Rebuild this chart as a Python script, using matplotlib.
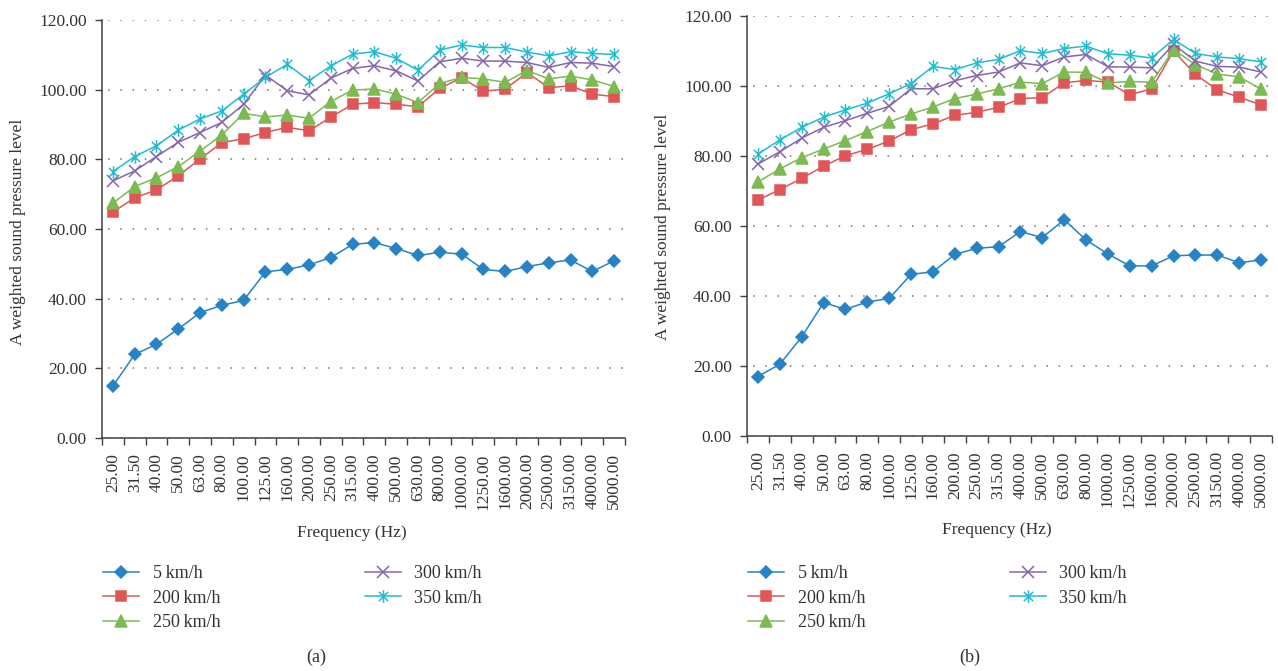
import matplotlib
matplotlib.use('Agg')
import matplotlib.pyplot as plt
from matplotlib.path import Path

# 1/3 octave centre frequencies
freqs = [25, 31.5, 40, 50, 63, 80, 100, 125, 160, 200, 250, 315, 400, 500,
         630, 800, 1000, 1250, 1600, 2000, 2500, 3150, 4000, 5000]
freq_labels = ['%.2f' % f for f in freqs]

speeds = ['5\u2009km/h', '200\u2009km/h', '250\u2009km/h', '300\u2009km/h', '350\u2009km/h']

# (a)
a_5 = [14.9, 24.0, 26.9, 31.3, 36.0, 38.1, 39.5, 47.7, 48.4, 49.7, 51.8, 55.6,
       56.1, 54.4, 52.4, 53.3, 52.8, 48.4, 47.8, 49.2, 50.3, 51.1, 47.8, 50.9]
a_200 = [64.8, 69.0, 71.2, 75.3, 80.1, 84.8, 85.9, 87.7, 89.2, 88.2, 92.1, 95.8,
         96.3, 95.8, 95.1, 100.4, 103.4, 99.6, 100.1, 104.9, 100.6, 101.1, 98.7, 98.0]
a_250 = [67.4, 72.2, 74.7, 77.9, 82.4, 87.0, 93.2, 92.2, 92.7, 91.8, 96.6, 99.9,
         100.2, 98.7, 96.3, 101.8, 103.5, 103.1, 102.1, 105.5, 103.1, 103.9, 102.8, 100.9]
a_300 = [73.8, 76.7, 80.8, 84.9, 87.7, 90.6, 95.8, 104.2, 99.7, 98.5, 103.3, 106.1,
         106.9, 105.4, 102.5, 108.0, 109.0, 108.2, 108.2, 107.8, 106.4, 107.8, 107.6, 106.6]
a_350 = [76.5, 80.8, 83.9, 88.4, 91.6, 93.9, 98.7, 103.5, 107.3, 102.6, 106.8, 110.2,
         110.9, 109.0, 105.6, 111.4, 112.8, 112.1, 112.1, 110.8, 109.7, 110.9, 110.4, 110.1]

# (b)
b_5 = [17.0, 20.5, 28.3, 38.1, 36.2, 38.3, 39.3, 46.2, 46.9, 51.9, 53.6, 54.1,
       58.4, 56.7, 61.8, 56.0, 52.0, 48.6, 48.6, 51.5, 51.7, 51.7, 49.5, 50.3]
b_200 = [67.4, 70.4, 73.6, 77.1, 80.1, 81.9, 84.3, 87.5, 89.2, 91.6, 92.5, 93.9,
         96.4, 96.7, 100.9, 101.6, 101.1, 97.5, 99.2, 110.0, 103.3, 98.9, 96.8, 94.6]
b_250 = [72.6, 76.3, 79.5, 82.0, 84.4, 87.0, 89.7, 92.0, 94.0, 96.4, 97.7, 99.2,
         101.1, 100.7, 104.0, 103.9, 100.9, 101.3, 101.1, 110.4, 106.1, 103.4, 102.6, 99.1]
b_300 = [77.7, 81.2, 85.1, 88.2, 90.1, 92.2, 94.2, 99.2, 99.2, 101.5, 103.0, 104.0,
         106.6, 105.8, 108.3, 109.0, 105.5, 105.4, 105.2, 111.9, 107.1, 105.6, 105.4, 104.0]
b_350 = [80.5, 84.6, 88.2, 91.1, 93.2, 95.1, 97.8, 100.7, 105.6, 104.7, 106.6, 107.6,
         110.1, 109.3, 110.7, 111.4, 109.2, 108.8, 108.0, 113.3, 109.3, 108.3, 107.8, 106.9]

colors = ['#2683c6', '#e05555', '#7cba52', '#8565ad', '#1fbcd2']

# asterisk = x with a vertical bar
star = Path([(-1, -1), (1, 1), (-1, 1), (1, -1), (0, -1.35), (0, 1.35)],
            [Path.MOVETO, Path.LINETO, Path.MOVETO, Path.LINETO, Path.MOVETO, Path.LINETO])
markers = ['D', 's', '^', 'x', star]
msizes = [6, 7.5, 8.5, 8.5, 9]

serif = ['Liberation Serif', 'DejaVu Serif']
plt.rcParams['font.family'] = serif
plt.rcParams['font.size'] = 12

fig = plt.figure(figsize=(12.78, 6.71), dpi=100)
ax_a = fig.add_axes([102 / 1278, 1 - 438 / 671, 523 / 1278, 418 / 671])
ax_b = fig.add_axes([747 / 1278, 1 - 436 / 671, 525 / 1278, 420 / 671])

x = list(range(len(freqs)))


def draw(ax, series):
    for vals, lab, c, m, ms in zip(series, speeds, colors, markers, msizes):
        filled = m not in ('x',) and m is not star
        ax.plot(x, vals, color=c, lw=1.1, marker=m, ms=ms,
                mec=c, mfc=c if filled else 'none', mew=1.1, label=lab)
    ax.set_xlim(-0.5, len(freqs) - 0.5)
    ax.set_ylim(0, 120)
    ax.set_yticks(range(0, 121, 20))
    ax.set_yticklabels(['%.2f' % v for v in range(0, 121, 20)])
    ax.set_xticks(x)
    ax.set_xticklabels(freq_labels, rotation=90)
    ax.set_xticks([i - 0.5 for i in range(len(freqs) + 1)], minor=True)
    ax.tick_params(axis='x', which='major', length=0, pad=11, labelsize=12.5, colors='#333333')
    ax.tick_params(axis='x', which='minor', length=5, width=1, color='#404040')
    ax.tick_params(axis='y', length=5, width=1, pad=6, labelsize=12.5,
                   color='#404040', labelcolor='#333333')
    for s in ('top', 'right'):
        ax.spines[s].set_visible(False)
    for s in ('left', 'bottom'):
        ax.spines[s].set_color('#404040')
        ax.spines[s].set_linewidth(1.1)
    ax.yaxis.grid(True, linestyle=(4, (1, 7)), color='#707070', lw=1.1)
    ax.set_axisbelow(True)


draw(ax_a, [a_5, a_200, a_250, a_300, a_350])
draw(ax_b, [b_5, b_200, b_250, b_300, b_350])

for xc, yc in [(18, 232), (663, 227)]:
    fig.text(xc / 1278, 1 - yc / 671, 'A weighted sound pressure level', rotation=90,
             ha='center', va='center', fontsize=12.5, color='#333333')
for xc, yc in [(352, 533), (997, 530)]:
    fig.text(xc / 1278, 1 - yc / 671, 'Frequency (Hz)', ha='center', va='center',
             fontsize=12.5, color='#333333')
for xc, yc, t in [(316, 657, '(a)'), (970, 657, '(b)')]:
    fig.text(xc / 1278, 1 - yc / 671, t, ha='center', va='center',
             fontsize=13, color='#333333')

for ax, lx in [(ax_a, 103), (ax_b, 748)]:
    h, l = ax.get_legend_handles_labels()
    fig.legend(h, l, loc='upper left', bbox_to_anchor=(lx / 1278, 1 - 565 / 671),
               ncol=2, frameon=False, fontsize=13, borderpad=0, borderaxespad=0,
               handlelength=2.0, handletextpad=0.75, columnspacing=8.0,
               labelspacing=0.42, labelcolor='#333333')

fig.savefig('out.png', dpi=100)
